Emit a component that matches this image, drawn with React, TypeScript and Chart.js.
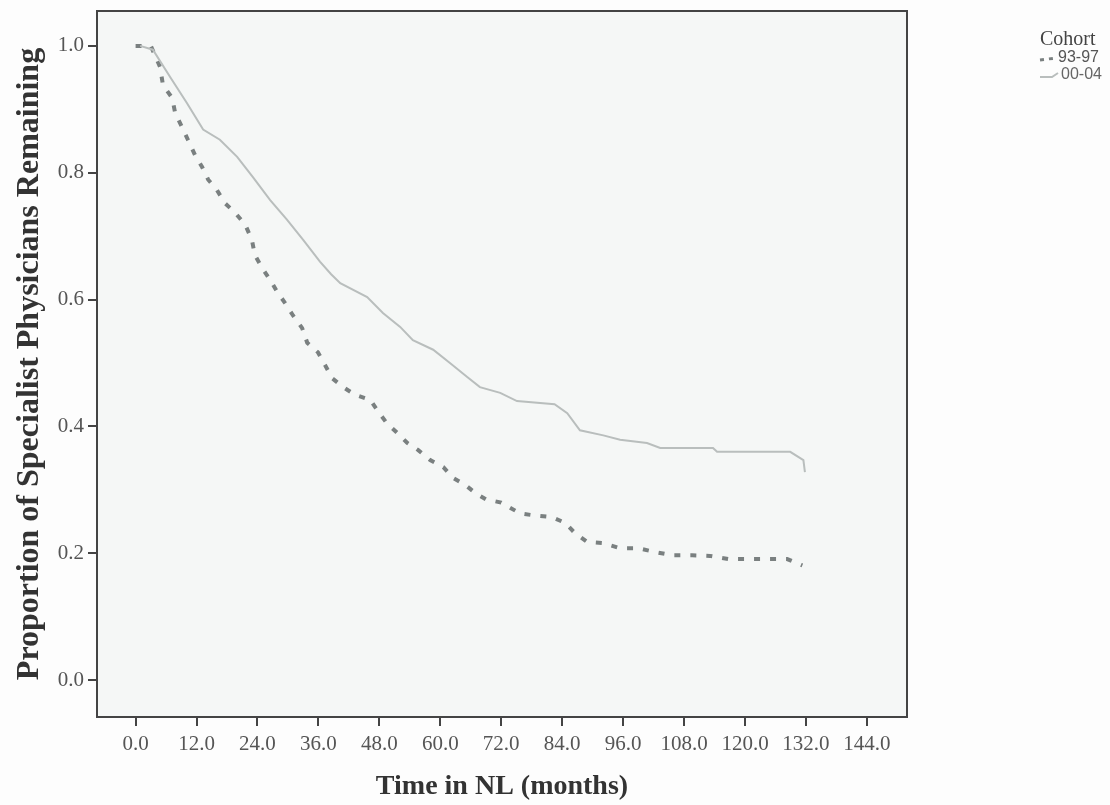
import React, { useEffect, useRef } from "react";
import { Chart, registerables } from "chart.js";

Chart.register(...registerables);

const cohortLabels = ["93-97", "00-04"];

const months9397 = [
  0, 3.0, 4.8, 5.4, 7.2, 7.8, 9.2, 10.3, 11.7, 13.1, 14.3, 16.0, 17.6, 19.6, 21.6, 22.9, 23.5, 24.9,
  26.5, 27.9, 29.4, 31.0, 32.8, 33.8, 35.9, 37.3, 38.7, 40.9, 43.2, 46.2, 47.8, 49.5, 51.5, 53.5,
  55.6, 58.0, 60.6, 62.5, 64.9, 66.9, 69.0, 72.0, 75.7, 78.3, 82.0, 84.6, 86.5, 88.9, 92.1, 95.4,
  99.0, 102.3, 105.7, 109.6, 113.1, 116.7, 128.3, 131.3,
];
const surv9397 = [
  1.0, 1.0, 0.967, 0.938, 0.918, 0.894, 0.871, 0.852, 0.828, 0.809, 0.789, 0.773, 0.752, 0.737, 0.718,
  0.694, 0.67, 0.65, 0.631, 0.612, 0.595, 0.575, 0.555, 0.532, 0.517, 0.497, 0.476, 0.462, 0.45,
  0.442, 0.423, 0.405, 0.39, 0.374, 0.363, 0.347, 0.336, 0.319, 0.308, 0.295, 0.285, 0.28, 0.263,
  0.26, 0.257, 0.248, 0.232, 0.218, 0.216, 0.208, 0.208, 0.202, 0.197, 0.197, 0.196, 0.191, 0.191,
  0.181,
];

const months0004 = [
  0.9, 3.4, 6.8, 10.1, 13.3, 16.6, 20.0, 23.1, 26.5, 29.8, 33.0, 36.3, 38.5, 40.3, 45.6, 48.7, 52.1,
  54.6, 58.6, 61.9, 65.3, 67.8, 71.8, 75.1, 82.5, 85.0, 87.5, 92.1, 95.4, 100.7, 103.3, 113.7, 114.5,
  128.9, 131.5, 131.8,
];
const surv0004 = [
  1.0, 0.994, 0.951, 0.91, 0.868, 0.852, 0.825, 0.793, 0.757, 0.726, 0.694, 0.66, 0.64, 0.626, 0.604,
  0.579, 0.557, 0.536, 0.521, 0.5, 0.478, 0.462, 0.453, 0.44, 0.435, 0.421, 0.394, 0.386, 0.379,
  0.374, 0.366, 0.366, 0.36, 0.36, 0.347, 0.328,
];

const xTickValues = [0, 12, 24, 36, 48, 60, 72, 84, 96, 108, 120, 132, 144];
const yTickValues = [0, 0.2, 0.4, 0.6, 0.8, 1.0];

const legendTitle = "Cohort";
const xTitle = "Time in NL (months)";
const yTitle = "Proportion of Specialist Physicians Remaining";

const DASH_COLOR = "#7a8080";
const SOLID_COLOR = "#b9bebd";

const framePlugin = {
  id: "frame",
  beforeDraw(chart: any) {
    const { ctx, chartArea: a } = chart;
    ctx.save();
    ctx.fillStyle = "#fdfdfd";
    ctx.fillRect(0, 0, chart.width, chart.height);
    ctx.fillStyle = "#f5f7f6";
    ctx.fillRect(a.left, a.top, a.right - a.left, a.bottom - a.top);
    ctx.restore();
  },
  afterDraw(chart: any) {
    const { ctx, chartArea: a } = chart;
    ctx.save();
    ctx.strokeStyle = "#444";
    ctx.lineWidth = 2;
    ctx.strokeRect(a.left, a.top, a.right - a.left, a.bottom - a.top);

    // legend
    ctx.fillStyle = "#444";
    ctx.font = "20px 'Liberation Serif'";
    ctx.textAlign = "left";
    ctx.textBaseline = "middle";
    ctx.fillText(legendTitle, 1040, 40);

    ctx.font = "16px 'Liberation Sans'";
    ctx.fillStyle = "#555";
    ctx.fillText(cohortLabels[0], 1058, 58);
    ctx.fillStyle = "#666";
    ctx.fillText(cohortLabels[1], 1061, 75);

    ctx.strokeStyle = DASH_COLOR;
    ctx.lineWidth = 3;
    ctx.setLineDash([4, 5]);
    ctx.beginPath();
    ctx.moveTo(1040, 60);
    ctx.lineTo(1056, 58);
    ctx.stroke();
    ctx.setLineDash([]);
    ctx.strokeStyle = SOLID_COLOR;
    ctx.lineWidth = 2;
    ctx.beginPath();
    ctx.moveTo(1040, 77);
    ctx.lineTo(1052, 77);
    ctx.lineTo(1058, 73);
    ctx.stroke();
    ctx.restore();
  },
};

export default function App() {
  const canvasRef = useRef<HTMLCanvasElement | null>(null);

  useEffect(() => {
    const canvas = canvasRef.current;
    if (!canvas) return;
    const data9397 = months9397.map((m, i) => ({ x: m, y: surv9397[i] }));
    const data0004 = months0004.map((m, i) => ({ x: m, y: surv0004[i] }));

    const tickFont = { family: "'Liberation Serif'", size: 21 };

    const chart = new Chart(canvas, {
      type: "line",
      data: {
        datasets: [
          {
            label: cohortLabels[1],
            data: data0004,
            borderColor: SOLID_COLOR,
            borderWidth: 2,
            pointRadius: 0,
            fill: false,
            tension: 0,
          },
          {
            label: cohortLabels[0],
            data: data9397,
            borderColor: DASH_COLOR,
            borderWidth: 4,
            borderDash: [6, 10],
            pointRadius: 0,
            fill: false,
            tension: 0,
          },
        ],
      },
      options: {
        animation: false,
        responsive: false,
        devicePixelRatio: 1,
        layout: { padding: { top: 11, right: 203, left: 0, bottom: 0 } },
        plugins: {
          legend: { display: false },
          tooltip: { enabled: false },
        },
        scales: {
          x: {
            type: "linear",
            min: -7.6,
            max: 151.9,
            afterBuildTicks: (scale: any) => {
              scale.ticks = xTickValues.map((v) => ({ value: v }));
            },
            afterFit: (scale: any) => {
              scale.height = 88;
              scale.paddingLeft = 0;
              scale.paddingRight = 0;
              scale.paddingTop = 0;
              scale.paddingBottom = 0;
            },
            border: { display: false },
            grid: {
              drawOnChartArea: false,
              drawTicks: true,
              tickLength: 9,
              color: "#444",
              lineWidth: 2,
            },
            ticks: {
              autoSkip: false,
              maxRotation: 0,
              padding: 6,
              color: "#555",
              font: tickFont,
              callback: (v: any) => Number(v).toFixed(1),
            },
            title: {
              display: true,
              text: xTitle,
              color: "#333",
              font: { family: "'Liberation Serif'", size: 28, weight: "bold" },
              padding: { top: 0, bottom: 1 },
            },
          },
          y: {
            type: "linear",
            min: -0.058,
            max: 1.055,
            afterBuildTicks: (scale: any) => {
              scale.ticks = yTickValues.map((v) => ({ value: v }));
            },
            afterFit: (scale: any) => {
              scale.width = 97;
              scale.paddingLeft = 0;
              scale.paddingRight = 0;
              scale.paddingTop = 0;
              scale.paddingBottom = 0;
            },
            border: { display: false },
            grid: {
              drawOnChartArea: false,
              drawTicks: true,
              tickLength: 9,
              color: "#444",
              lineWidth: 2,
            },
            ticks: {
              autoSkip: false,
              padding: 4,
              color: "#555",
              font: tickFont,
              callback: (v: any) => Number(v).toFixed(1),
            },
            title: {
              display: true,
              text: yTitle,
              color: "#333",
              font: { family: "'Liberation Serif'", size: 32, weight: "bold" },
              padding: { top: 11, bottom: 0 },
            },
          },
        },
      },
      plugins: [framePlugin],
    });

    return () => chart.destroy();
  }, []);

  return (
    <div style={{ position: "fixed", left: 0, top: 0, width: 1110, height: 805, background: "#fdfdfd" }}>
      <canvas ref={canvasRef} width={1110} height={805} style={{ display: "block" }} />
    </div>
  );
}
